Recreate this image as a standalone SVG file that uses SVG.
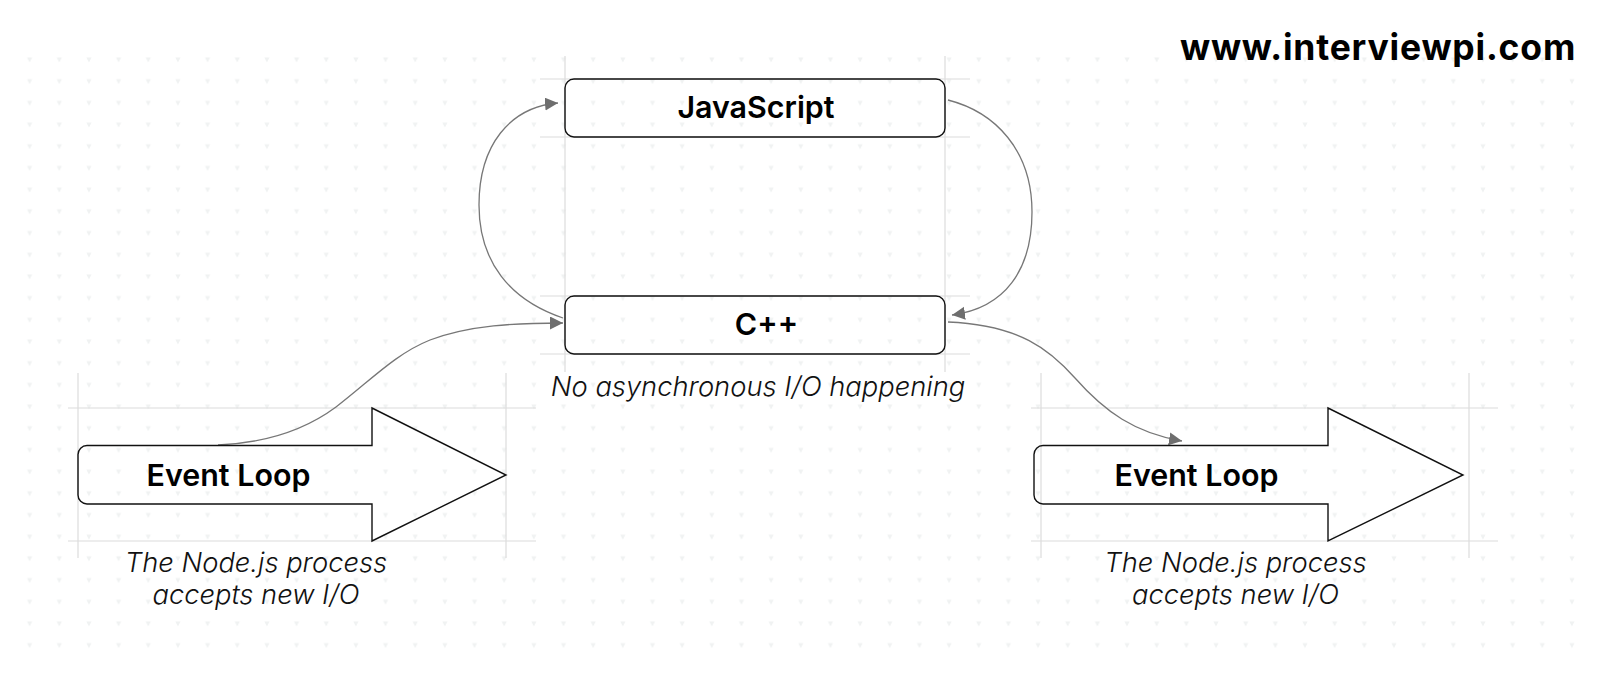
<svg xmlns="http://www.w3.org/2000/svg" width="1600" height="679" viewBox="0 0 1600 679">
<style>
text{font-family:Inter,"Liberation Sans",sans-serif;fill:#000}
.t{font-size:30.4px;font-weight:600;text-anchor:middle}
.i{font-size:27.3px;font-style:italic;font-weight:300;text-anchor:middle;fill:#111}
.n{fill:none;stroke:#111;stroke-width:1.4}
.g{stroke:#dcdcdc;stroke-width:1.2;fill:none}
.c{fill:none;stroke:#777;stroke-width:1.3}
</style>
<defs>
<pattern id="dots" x="-14.83" y="49.15" width="29.66" height="21.69" patternUnits="userSpaceOnUse"><path d="M12.2 8.4h5.2l-2.6 5z" fill="#f0f2f2"/></pattern>
<marker id="a" markerUnits="userSpaceOnUse" markerWidth="15" markerHeight="14" refX="13" refY="6.500" orient="auto"><path d="M0 0L13 6.500L0 13z" fill="#6e6e6e"/></marker>
</defs>
<rect width="1600" height="679" fill="#fff"/>
<rect x="15" y="49" width="1570" height="608" fill="url(#dots)"/>
<g id="guides">
<path class="g" d="M565 56V372M945 56V372M540 79H970M540 137H970M540 296H970M540 354H970"/>
<path class="g" d="M78 373V558M506 373V558M68 408H536M68 541H536"/>
<path class="g" d="M1041 373V558M1469 373V558M1031 408H1498M1031 541H1498"/>
</g>
<g id="connectors">
<path class="c" marker-end="url(#a)" d="M563 318C510 300 479 262 479 205C479 145 510 107 558 103"/>
<path class="c" d="M948 100C995 112 1032 150 1032 212C1032 270 1005 308 952 315" marker-end="url(#a)"/>
<path class="c" d="M218 445C265 443 305 430 336 407C370 381 395 354 430 340C470 325 515 323 563 323" marker-end="url(#a)"/>
<path class="c" d="M948 322C1020 325 1050 350 1075 378C1105 412 1135 433 1182 441" marker-end="url(#a)"/>
</g>
<g id="js"><rect class="n" x="565" y="79" width="380" height="58" rx="9"/><text class="t" x="756" y="118">JavaScript</text></g>
<g id="cpp"><rect class="n" x="565" y="296" width="380" height="58" rx="9"/><text class="t" x="766.500" y="335">C++</text></g>
<g id="loop1"><path class="n" d="M372 408V445.500H87a9 9 0 0 0-9 9V495a9 9 0 0 0 9 9H372V541L506 475Z"/><text class="t" x="228.500" y="486">Event Loop</text></g>
<g id="loop2"><path class="n" d="M1328 408V445.500H1043a9 9 0 0 0-9 9V495a9 9 0 0 0 9 9H1328V541L1463 475Z"/><text class="t" x="1196.500" y="486">Event Loop</text></g>
<g id="labels">
<text class="i" x="758" y="396">No asynchronous I/O happening</text>
<text class="i" x="256" y="572">The Node.js process</text>
<text class="i" x="256" y="604">accepts new I/O</text>
<text class="i" x="1235.500" y="572">The Node.js process</text>
<text class="i" x="1235.500" y="604">accepts new I/O</text>
<text x="1378" y="60" font-size="35.500" font-weight="700" text-anchor="middle" letter-spacing="0.8">www.interviewpi.com</text>
</g>
</svg>
